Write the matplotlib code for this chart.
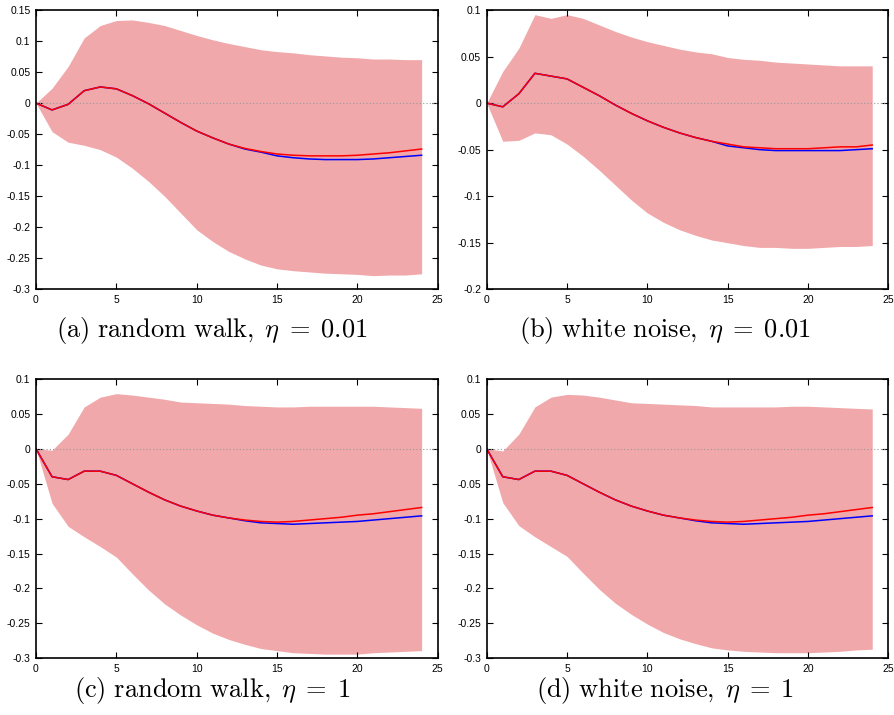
import numpy as np
import matplotlib
matplotlib.use('Agg')
import matplotlib.pyplot as plt

plt.rcParams['font.family'] = 'Liberation Sans'
plt.rcParams['mathtext.fontset'] = 'cm'

horizon = np.arange(25)

# (a) random walk, eta = 0.01
a_upper = [0, 0.024, 0.059, 0.105, 0.125, 0.133, 0.134, 0.130, 0.125, 0.117, 0.109, 0.102, 0.096,
           0.091, 0.086, 0.083, 0.081, 0.078, 0.076, 0.074, 0.073, 0.071, 0.071, 0.070, 0.070]
a_lower = [0, -0.046, -0.063, -0.068, -0.075, -0.087, -0.105, -0.126, -0.150, -0.177, -0.204, -0.223, -0.239,
           -0.251, -0.261, -0.267, -0.270, -0.272, -0.274, -0.275, -0.276, -0.278, -0.277, -0.277, -0.275]
a_red = [0, -0.011, -0.002, 0.020, 0.026, 0.023, 0.012, -0.001, -0.016, -0.031, -0.045, -0.056, -0.066,
         -0.073, -0.078, -0.082, -0.084, -0.085, -0.085, -0.085, -0.084, -0.082, -0.080, -0.077, -0.074]
a_blue = [0, -0.011, -0.002, 0.020, 0.026, 0.023, 0.012, -0.001, -0.016, -0.031, -0.045, -0.056, -0.066,
          -0.074, -0.079, -0.085, -0.088, -0.090, -0.091, -0.091, -0.091, -0.090, -0.088, -0.086, -0.084]

# (b) white noise, eta = 0.01
b_upper = [0, 0.034, 0.059, 0.095, 0.091, 0.095, 0.091, 0.084, 0.077, 0.071, 0.066, 0.062, 0.058,
           0.055, 0.053, 0.049, 0.047, 0.046, 0.044, 0.043, 0.042, 0.041, 0.040, 0.040, 0.040]
b_lower = [0, -0.041, -0.040, -0.032, -0.034, -0.044, -0.057, -0.072, -0.088, -0.104, -0.118, -0.128, -0.136,
           -0.142, -0.147, -0.150, -0.153, -0.155, -0.155, -0.156, -0.156, -0.155, -0.154, -0.154, -0.153]
b_red = [0, -0.004, 0.010, 0.032, 0.029, 0.026, 0.017, 0.008, -0.002, -0.011, -0.019, -0.026, -0.032,
         -0.037, -0.041, -0.044, -0.047, -0.048, -0.049, -0.049, -0.049, -0.048, -0.047, -0.047, -0.045]
b_blue = [0, -0.004, 0.010, 0.032, 0.029, 0.026, 0.017, 0.008, -0.002, -0.011, -0.019, -0.026, -0.032,
          -0.037, -0.041, -0.046, -0.048, -0.050, -0.051, -0.051, -0.051, -0.051, -0.051, -0.050, -0.049]

# (c) random walk, eta = 1
c_upper = [0, -0.002, 0.021, 0.060, 0.074, 0.079, 0.077, 0.074, 0.071, 0.067, 0.066, 0.065, 0.064,
           0.062, 0.061, 0.060, 0.060, 0.061, 0.061, 0.061, 0.061, 0.061, 0.060, 0.059, 0.058]
c_lower = [0, -0.078, -0.111, -0.126, -0.140, -0.155, -0.179, -0.202, -0.222, -0.238, -0.252, -0.264, -0.273,
           -0.280, -0.286, -0.289, -0.292, -0.293, -0.294, -0.294, -0.294, -0.292, -0.291, -0.290, -0.289]
c_red = [0, -0.040, -0.044, -0.032, -0.032, -0.038, -0.050, -0.062, -0.073, -0.082, -0.089, -0.095, -0.099,
         -0.102, -0.104, -0.105, -0.104, -0.102, -0.100, -0.098, -0.095, -0.093, -0.090, -0.087, -0.084]
c_blue = [0, -0.040, -0.044, -0.032, -0.032, -0.038, -0.050, -0.062, -0.073, -0.082, -0.089, -0.095, -0.099,
          -0.103, -0.106, -0.107, -0.108, -0.107, -0.106, -0.105, -0.104, -0.102, -0.100, -0.098, -0.096]

# (d) white noise, eta = 1
d_upper = [0, -0.003, 0.021, 0.060, 0.074, 0.078, 0.077, 0.074, 0.070, 0.066, 0.065, 0.064, 0.063,
           0.062, 0.060, 0.060, 0.060, 0.060, 0.060, 0.061, 0.061, 0.060, 0.059, 0.058, 0.057]
d_lower = [0, -0.077, -0.110, -0.126, -0.140, -0.154, -0.178, -0.201, -0.221, -0.237, -0.251, -0.263, -0.272,
           -0.279, -0.285, -0.288, -0.290, -0.291, -0.292, -0.292, -0.292, -0.291, -0.290, -0.288, -0.287]
d_red = c_red
d_blue = c_blue

panels = [
    (a_upper, a_lower, a_red, a_blue, (-0.3, 0.15), np.arange(-0.3, 0.151, 0.05), r'$\mathrm{(a)\ random\ walk,}\;\eta\;=\;0.01$'),
    (b_upper, b_lower, b_red, b_blue, (-0.2, 0.1), np.arange(-0.2, 0.101, 0.05), r'$\mathrm{(b)\ white\ noise,}\;\eta\;=\;0.01$'),
    (c_upper, c_lower, c_red, c_blue, (-0.3, 0.1), np.arange(-0.3, 0.101, 0.05), r'$\mathrm{(c)\ random\ walk,}\;\eta\;=\;1$'),
    (d_upper, d_lower, d_red, d_blue, (-0.3, 0.1), np.arange(-0.3, 0.101, 0.05), r'$\mathrm{(d)\ white\ noise,}\;\eta\;=\;1$'),
]

W, H = 895, 715
fig = plt.figure(figsize=(W / 100, H / 100), dpi=100)

# axes boxes in pixels: left, top, right, bottom
boxes = [(36, 10, 437.7, 289.3), (486.7, 10, 888.3, 289.3),
         (36, 379, 437.7, 658.3), (486.7, 379, 888.3, 658.3)]
captions_xy = [(212, 331), (665, 331), (212, 691), (665, 691)]


def fmt(v):
    s = f'{v:.2f}'.rstrip('0').rstrip('.')
    return '0' if s in ('-0', '0') else s


for (up, lo, red, blue, ylim, yt, cap), (l, t, r, b), (cx, cy) in zip(panels, boxes, captions_xy):
    ax = fig.add_axes([l / W, 1 - b / H, (r - l) / W, (b - t) / H])
    ax.fill_between(horizon, lo, up, color='#f0a8ab', lw=0)
    ax.axhline(0, color='#999999', lw=0.8, ls=(0, (1, 2)))
    ax.plot(horizon, blue, color='blue', lw=1.1)
    ax.plot(horizon, red, color='red', lw=1.1)
    ax.set_xlim(0, 25)
    ax.set_ylim(*ylim)
    ax.set_xticks(np.arange(0, 26, 5))
    ax.set_yticks(yt)
    ax.set_yticklabels([fmt(v) for v in yt])
    ax.tick_params(direction='in', top=True, right=True, labelsize=7.5, length=4, width=0.8, pad=4)
    for s in ax.spines.values():
        s.set_linewidth(1.2)
    fig.text(cx / W, 1 - cy / H, cap, ha='center', va='center', fontsize=19)

fig.savefig('out.png', dpi=100)
